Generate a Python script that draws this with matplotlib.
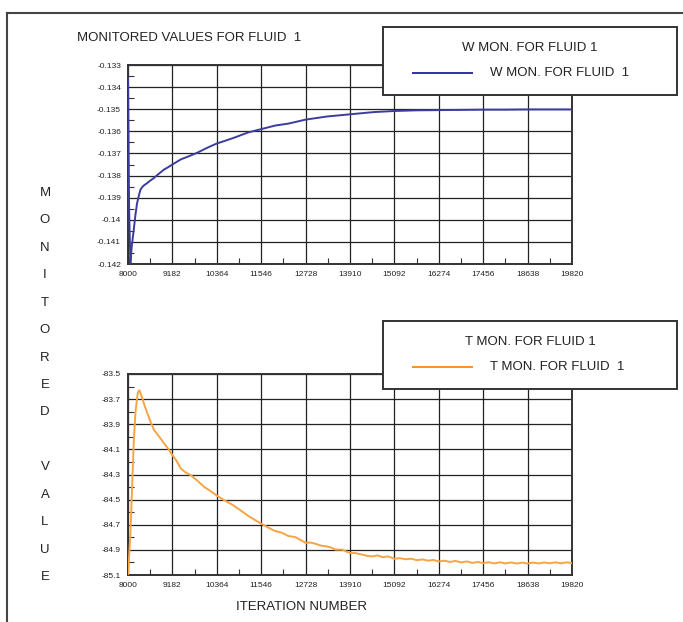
import numpy as np
import matplotlib
matplotlib.use("Agg")
import matplotlib.pyplot as plt
from matplotlib.patches import Rectangle
from matplotlib.lines import Line2D
######################################
plt.rcParams['font.family'] = ['Liberation Sans', 'DejaVu Sans']
######################################
# x ticks (iterations) shared by both panels
xticks = [8000, 9182, 10364, 11546, 12728, 13910, 15092, 16274, 17456, 18638, 19820]
w_yticks = [-0.133, -0.134, -0.135, -0.136, -0.137, -0.138, -0.139, -0.14, -0.141, -0.142]
t_yticks = [-83.5, -83.7, -83.9, -84.1, -84.3, -84.5, -84.7, -84.9, -85.1]

# W monitor
w_iter = [8000, 8030, 8063, 8100, 8152, 8200, 8242, 8290, 8331, 8380, 8420, 8470, 8510,
          8600, 8690, 8820, 8958, 9070, 9182, 9406, 9630, 9853, 10100, 10364, 10600,
          10839, 11197, 11546, 11914, 12271, 12728, 13292, 13910, 14540, 15092, 15700,
          16274, 16900, 17456, 18050, 18638, 19250, 19820]
w_val = [-0.13361, -0.1395, -0.14196, -0.1412, -0.14047, -0.13975, -0.13925, -0.13890,
         -0.13864, -0.13852, -0.13845, -0.13839, -0.13834, -0.13822, -0.13811, -0.13792,
         -0.13773, -0.13762, -0.13750, -0.13727, -0.13712, -0.13696, -0.13675, -0.13655,
         -0.13642, -0.13628, -0.13605, -0.13590, -0.13574, -0.13565, -0.13547, -0.13533,
         -0.13523, -0.13513, -0.13508, -0.13505, -0.13504, -0.13503, -0.13502, -0.13502,
         -0.13501, -0.13501, -0.13501]

# T monitor
t_iter = [8000, 8030, 8063, 8110, 8152, 8197, 8260, 8304, 8376, 8440, 8510, 8600, 8690,
          8820, 8958, 9070, 9182, 9300, 9406, 9540, 9675, 9850, 10033, 10200, 10364,
          10550, 10749, 10970, 11197, 11370, 11546, 11730, 11914, 12093, 12271, 12450,
          12600, 12728, 12860, 13000, 13130, 13257, 13390, 13525, 13704, 13800, 13910,
          14050, 14238, 14370, 14506, 14640, 14775, 14930, 15092, 15240, 15390, 15540,
          15690, 15840, 15990, 16130, 16274, 16420, 16570, 16720, 16870, 17020, 17170,
          17310, 17456, 17600, 17750, 17900, 18050, 18200, 18350, 18490, 18638, 18780,
          18930, 19080, 19230, 19380, 19530, 19680, 19820]
t_val = [-85.10, -84.95, -84.777, -84.40, -84.051, -83.809, -83.648, -83.629, -83.688,
         -83.750, -83.809, -83.880, -83.944, -83.995, -84.051, -84.095, -84.145, -84.195,
         -84.253, -84.285, -84.306, -84.350, -84.400, -84.432, -84.468, -84.503, -84.535,
         -84.580, -84.629, -84.660, -84.691, -84.722, -84.750, -84.763, -84.790, -84.798,
         -84.822, -84.844, -84.842, -84.852, -84.866, -84.871, -84.880, -84.898, -84.898,
         -84.912, -84.925, -84.925, -84.938, -84.948, -84.952, -84.944, -84.958, -84.952,
         -84.971, -84.966, -84.975, -84.970, -84.982, -84.976, -84.986, -84.980, -84.993,
         -84.986, -84.996, -84.988, -85.000, -84.992, -85.004, -84.996, -85.006, -84.998,
         -85.008, -84.999, -85.008, -85.000, -85.009, -85.001, -85.009, -85.001, -85.008,
         -85.000, -85.007, -84.999, -85.007, -84.999, -85.006]
######################################
tick_fs   = 6
text_fs   = 9.5
w_color   = '#3c3ca0'
t_color   = '#f7a443'
grid_col  = '#222222'
######################################

fig = plt.figure(figsize=(6.83, 6.22), dpi=100)

# outer frame (top and left visible)
fig.add_artist(Line2D([7/683, 7/683], [0, 1-13/622], color='#444444', lw=1.5))
fig.add_artist(Line2D([7/683, 1], [1-13/622, 1-13/622], color='#444444', lw=1.5))


def panel(rect, x, y, yticks, color):
    ax = fig.add_axes(rect)
    ax.plot(x, y, color=color, lw=1.4, zorder=3)
    ax.set_xlim(xticks[0], xticks[-1])
    ax.set_ylim(yticks[-1], yticks[0])
    ax.set_xticks(xticks)
    ax.set_xticklabels([str(v) for v in xticks])
    ax.set_yticks(yticks)
    ax.set_yticklabels(['%g' % v for v in yticks])
    ax.set_xticks([(a + b) / 2 for a, b in zip(xticks[:-1], xticks[1:])], minor=True)
    ax.set_yticks([(a + b) / 2 for a, b in zip(yticks[:-1], yticks[1:])], minor=True)
    ax.tick_params(which='major', length=0, labelsize=tick_fs, pad=5, colors='#222222')
    ax.tick_params(which='minor', direction='in', length=4, width=0.8, color='#333333')
    ax.tick_params(which='minor', top=False, right=False)
    ax.grid(True, which='major', color=grid_col, lw=0.9)
    for s in ax.spines.values():
        s.set_color('#333333')
        s.set_linewidth(1.4)
    return ax


ax1 = panel([128/683, 1-264/622, 444/683, 199/622], w_iter, w_val, w_yticks, w_color)
ax2 = panel([128/683, 1-575/622, 444/683, 201/622], t_iter, t_val, t_yticks, t_color)

# legend boxes
def legbox(ytop, title, label, color):
    x0, x1 = 383/683, 677/683
    y0, y1 = 1-(ytop+68)/622, 1-ytop/622
    fig.add_artist(Rectangle((x0, y0), x1-x0, y1-y0, transform=fig.transFigure,
                             facecolor='white', edgecolor='#333333', lw=1.4, zorder=10))
    fig.text(530/683, 1-(ytop+21)/622, title, ha='center', va='center',
             fontsize=text_fs, color='#222222', zorder=11)
    fig.add_artist(Line2D([413/683, 472/683], [1-(ytop+46)/622]*2, color=color,
                          lw=1.4, zorder=11))
    fig.text(490/683, 1-(ytop+46)/622, label, ha='left', va='center',
             fontsize=text_fs, color='#222222', zorder=11)

legbox(27, 'W MON. FOR FLUID 1', 'W MON. FOR FLUID  1', '#3030a8')
legbox(321, 'T MON. FOR FLUID 1', 'T MON. FOR FLUID  1', '#ff9020')

fig.text(77/683, 1-38/622, 'MONITORED VALUES FOR FLUID  1', ha='left', va='center',
         fontsize=text_fs, color='#222222')
fig.text(302/683, 1-607/622, 'ITERATION NUMBER', ha='center', va='center',
         fontsize=text_fs, color='#222222')

# vertical y label, letter by letter
letters = list('MONITORED') + [''] + list('VALUE')
ypos = np.linspace(193, 577, len(letters))
for ch, yy in zip(letters, ypos):
    if ch:
        fig.text(45/683, 1-yy/622, ch, ha='center', va='center', fontsize=text_fs,
                 color='#222222')

fig.savefig('out.png', dpi=100)
